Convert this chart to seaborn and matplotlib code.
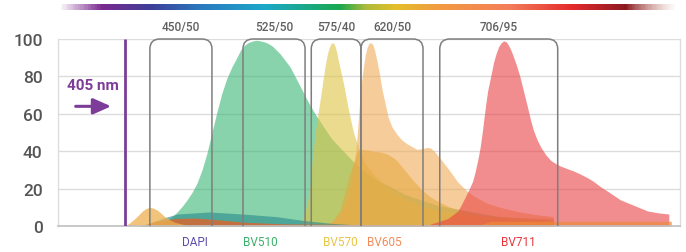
import numpy as np
import pandas as pd
import matplotlib
matplotlib.use("Agg")
import matplotlib.pyplot as plt
import seaborn as sns
from matplotlib.patches import FancyBboxPatch, Rectangle
from matplotlib.colors import LinearSegmentedColormap, to_rgba

# ---------------- data ----------------
green_nm = [437, 442, 447, 451, 455, 459, 463, 467, 471, 475, 479, 483, 487, 491, 495, 498, 501, 504, 508, 511, 514, 518, 521, 524, 530, 538, 545, 552, 558, 565, 571, 578, 588, 598, 608, 619, 630, 643, 657, 673, 690, 707, 728, 748]
green_v = [2, 4.5, 7.5, 10.5, 14, 18, 23, 30, 39, 50, 61, 71, 79, 85, 90, 94, 96.5, 98, 99, 99.3, 99, 98.3, 97.3, 96, 92, 85, 76, 67, 60, 53, 47, 42, 35, 29, 24.5, 21, 17, 14, 11, 9, 7, 5, 4, 3]

yellow_nm = [546, 548, 550, 552, 554, 556, 558, 560, 562, 564, 566, 568, 569.5, 571, 572, 573, 574, 575.5, 577, 579, 581, 583, 585, 587, 589, 591, 593, 598, 606, 612, 619, 627, 635, 647, 659, 675, 691, 720, 750]
yellow_v = [1, 4, 8, 13, 22, 37, 49, 58, 67, 76, 85, 92, 95.5, 97.5, 98, 97.8, 96.5, 93, 88, 82, 76, 69, 62, 56, 50, 46, 42, 34, 27, 23, 20, 16, 13, 10, 8, 6.3, 5, 3.5, 2.5]

orange_nm = [566, 574, 578, 582, 585, 587, 589, 591, 592, 593, 594, 595.5, 597, 598.5, 600, 601.5, 603, 604.5, 606, 608, 610, 612, 615, 617, 620, 624, 628, 632, 636, 640, 644, 648, 651, 654, 659, 666, 673, 680, 686, 697, 710, 723, 737, 750]
orange_v = [1, 3, 6.4, 11, 17, 23, 31.5, 41, 49, 58, 67, 77, 85, 91.5, 95.5, 97.8, 98, 97, 94, 88, 81, 73, 64, 58, 53, 49, 46, 44, 42.5, 41, 41.3, 42, 41.8, 40, 36, 30, 23.5, 19, 16, 12, 9.5, 7.5, 6, 5]

amber_nm = [570, 578, 586, 593, 599, 605, 611, 616, 620, 624, 630, 635, 643, 651, 659, 667, 679, 691, 707, 723, 750]
amber_v = [1, 8, 28, 41, 40.8, 40, 39.5, 38.5, 37, 35, 30, 26, 20, 15.5, 12.5, 10, 7.8, 6, 5, 4.5, 4]

red_nm = [651, 658, 665, 669, 673, 676, 679, 682, 685, 687, 689, 691, 692.5, 694, 695.5, 697, 699.5, 702, 704, 706, 708, 710, 712, 714, 715.5, 717, 720, 723, 726, 729, 731.5, 734, 737, 740, 744, 748, 752, 756, 761, 766, 771, 777, 782, 788, 795, 804, 815, 826, 835, 843]
red_v = [1, 2.5, 4, 6, 8, 11.5, 15.5, 19.5, 24, 29, 35, 42, 49, 57, 65, 72, 80, 88, 92.5, 96, 98, 99, 98.5, 96.5, 94.5, 92, 86.5, 80, 72, 64, 57, 51, 46, 42, 38, 35, 33.3, 32, 30.7, 29.5, 28, 26, 24, 21, 18, 14, 11, 8, 7, 6.4]

teal_nm = [417, 427, 437, 447, 461, 473, 500, 527, 548, 570, 594]
teal_v = [0, 2, 4.5, 6.4, 7, 7.5, 6.4, 5, 3, 1.5, 0.5]

darkorange_nm = [417, 429, 445, 461, 477, 502, 530, 586, 750]
darkorange_v = [0, 2.5, 4, 4.3, 3.5, 2, 1.2, 0.8, 0.8]

bump_nm = [405, 409, 413, 416, 419, 422, 425, 428, 431, 434, 437, 441, 445, 451, 457]
bump_v = [0, 1.8, 4, 6, 8, 9.4, 10, 9.5, 8.5, 6.8, 5, 3.3, 2, 1, 0]

tail_nm = [690, 700, 750, 800, 845]
tail_v = [0.5, 2.5, 2.5, 2.5, 2.5]

filter_centers = [450, 525, 575, 620, 706]
filter_widths = [50, 50, 40, 50, 95]
filter_labels = ["450/50", "525/50", "575/40", "620/50", "706/95"]

dye_labels = ["DAPI", "BV510", "BV570", "BV605", "BV711"]
dye_label_nm = [461, 514, 578, 614, 722]
dye_label_colors = ["#5b4ea8", "#3bb06a", "#e8c545", "#f38c5a", "#e8363d"]

laser_nm = 405
yticks = [0, 20, 40, 60, 80, 100]

# ---------------- style ----------------
sns.set_theme(style="whitegrid")
plt.rcParams["font.family"] = ["Roboto", "DejaVu Sans"]

fig = plt.figure(figsize=(6.86, 2.53), dpi=100)
ax = fig.add_axes([58 / 686, 26 / 253, 622 / 686, 187 / 253])

curves = [
    ("BV510", green_nm, green_v, "#39b673", 0.6),
    ("BV570", yellow_nm, yellow_v, "#dec344", 0.6),
    ("BV605", orange_nm, orange_v, "#f0ac57", 0.6),
    ("amber", amber_nm, amber_v, "#e5a83c", 0.55),
    ("BV711", red_nm, red_v, "#e94144", 0.6),
    ("tail", tail_nm, tail_v, "#ee8a3a", 0.7),
    ("teal", teal_nm, teal_v, "#2f8f8f", 0.65),
    ("darkorange", darkorange_nm, darkorange_v, "#e0632a", 0.8),
    ("bump", bump_nm, bump_v, "#eeb14f", 0.75),
]

df = pd.concat([pd.DataFrame({"nm": n, "value": v, "dye": name}) for name, n, v, _, _ in curves])
sns.lineplot(data=df, x="nm", y="value", hue="dye", palette={c[0]: c[3] for c in curves},
             linewidth=0, legend=False, ax=ax, sort=False, estimator=None)

for i, (name, n, v, col, a) in enumerate(curves):
    ax.fill_between(n, v, 0, color=col, alpha=a, linewidth=0, zorder=2 + i * 0.01)

ax.set_xlim(351, 852)
ax.set_ylim(0, 100)
ax.set_yticks(yticks)
ax.set_xticks([])
ax.set_xlabel("")
ax.set_ylabel("")
ax.grid(axis="y", color="#dcdcdc", linewidth=1.0)
ax.grid(axis="x", visible=False)
ax.tick_params(axis="y", length=0, pad=11, labelsize=12.5, labelcolor="#555555")
for lab in ax.get_yticklabels():
    lab.set_fontweight("medium")
for s in ["left", "right"]:
    ax.spines[s].set_color("#dddddd")
    ax.spines[s].set_linewidth(1.0)
ax.spines["bottom"].set_color("#c0c0c0")
ax.spines["bottom"].set_linewidth(1.2)
ax.spines["top"].set_visible(False)

# filter boxes (bottom clipped at the x axis)
clip = Rectangle((351, 0), 501, 110, transform=ax.transData, facecolor="none", edgecolor="none")
for c, w, lab in zip(filter_centers, filter_widths, filter_labels):
    box = FancyBboxPatch((c - w / 2, -15), w, 115, boxstyle="round,pad=0,rounding_size=8",
                         mutation_aspect=0.668, facecolor="none", edgecolor="#7e7e7e",
                         linewidth=1.1, transform=ax.transData, zorder=5, clip_on=True)
    ax.add_patch(box)
    box.set_clip_path(clip)
    ax.text(c, 106.5, lab, ha="center", va="center", fontsize=8.5, color="#606060",
            fontweight="medium", clip_on=False)

# laser line and annotation
ax.plot([laser_nm, laser_nm], [0, 100], color="#7d3c98", linewidth=2.0, zorder=6, solid_capstyle="butt")
ax.text(379, 75.5, f"{laser_nm} nm", ha="center", va="center", fontsize=11, color="#7d3c98", fontweight="bold")
ax.annotate("", xy=(396, 64), xytext=(363, 64),
            arrowprops=dict(arrowstyle="-|>,head_length=0.9,head_width=0.4", color="#7d3c98", lw=2.2))

# dye labels
for n, lab, col in zip(dye_label_nm, dye_labels, dye_label_colors):
    ax.text(n, -8.2, lab, ha="center", va="center", fontsize=8.5, color=col, clip_on=False)

# spectrum bar
bax = fig.add_axes([58 / 686, (253 - 11) / 253, 620 / 686, 6 / 253])
stops = [
    (0, to_rgba("#7b2a8f", 0.0)),
    (42, to_rgba("#7b2a8f", 1.0)),
    (92, to_rgba("#3d3f98")),
    (142, to_rgba("#2a79bf")),
    (207, to_rgba("#1ca9c9")),
    (282, to_rgba("#19a84f")),
    (307, to_rgba("#a9bb3a")),
    (337, to_rgba("#e4bf2b")),
    (382, to_rgba("#f29a40")),
    (452, to_rgba("#f47e5b")),
    (515, to_rgba("#e42a2c")),
    (569, to_rgba("#8b1a20")),
    (620, to_rgba("#c89080", 0.0)),
]
cmap = LinearSegmentedColormap.from_list("spec", [(p / 620, c) for p, c in stops])
bax.imshow(np.linspace(0, 1, 620)[None, :], aspect="auto", cmap=cmap, extent=(0, 1, 0, 1))
bax.axis("off")

fig.savefig("out.png", dpi=100)
